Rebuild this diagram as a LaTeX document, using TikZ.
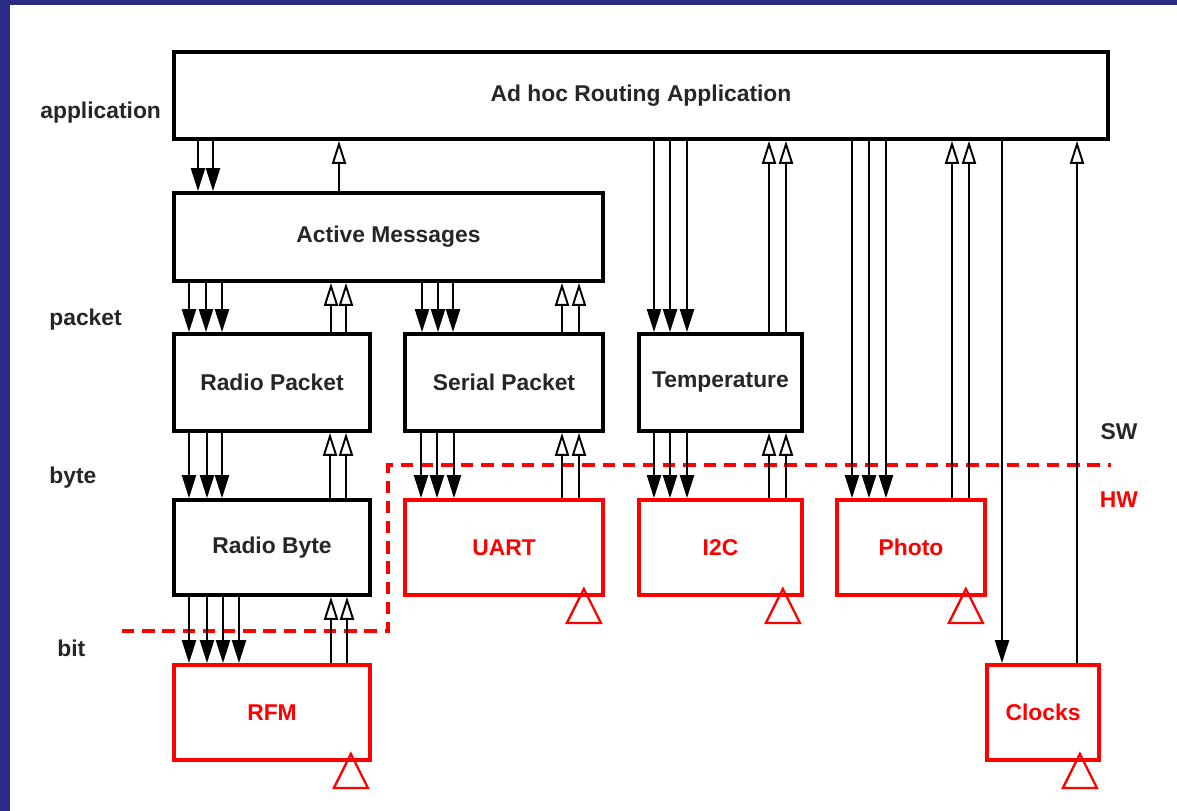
\documentclass[tikz,border=0pt]{standalone}
\usepackage{fontspec}
\setmainfont{Liberation Sans}
\usetikzlibrary{arrows.meta,calc}
\definecolor{Ink}{HTML}{262626}
\definecolor{HwRed}{HTML}{FF0000}
\definecolor{Frame}{HTML}{2B2A84}
\tikzset{
  >=Latex,
  blk/.style={rectangle,draw=black,line width=2.2pt,fill=white,inner sep=0pt,font=\fontsize{13}{15}\selectfont\bfseries,text=Ink},
  hwblk/.style={blk,draw=HwRed,text=HwRed},
  dnarr/.style={-{Triangle[length=13pt,width=8pt]},line width=1.1pt,draw=black},
  uparr/.style={-{Triangle[length=13pt,width=8pt,fill=white]},line width=1.1pt,draw=black},
  lvl/.style={font=\fontsize{13}{15}\selectfont\bfseries,text=Ink,anchor=west,inner sep=0pt},
  swhw/.style={dash pattern=on 7pt off 4.5pt,draw=HwRed,line width=2.2pt},
  tri/.style={draw=HwRed,line width=1.3pt,line join=miter}
}

\begin{document}
\begin{tikzpicture}[x=0.02cm,y=-0.02cm]
        \useasboundingbox (0,0) rectangle (1177,811);
        \fill[Frame] (0,0) rectangle (1177,5);
        \fill[Frame] (0,0) rectangle (10,811);
        \draw[swhw] (122,631) -- (388,631) -- (388,465) -- (1111,465);
        \node[blk,minimum width=18.68cm,minimum height=1.74cm] (app) at (641,95.5) {Ad hoc Routing Application};
        \node[blk,minimum width=8.58cm,minimum height=1.76cm] (am) at (388.5,237) {Active Messages};
        \node[blk,minimum width=3.92cm,minimum height=1.94cm] (rpkt) at (272,382.5) {Radio Packet};
        \node[blk,minimum width=3.96cm,minimum height=1.94cm] (spkt) at (504,382.5) {Serial Packet};
        \node[blk,minimum width=3.26cm,minimum height=1.94cm] (temp) at (720.5,382.5) {Temperature};
        \node[blk,minimum width=3.92cm,minimum height=1.9cm] (rbyte) at (272,547.5) {Radio Byte};
        \node[hwblk,minimum width=3.96cm,minimum height=1.9cm] (uart) at (504,547.5) {UART};
        \node[hwblk,minimum width=3.26cm,minimum height=1.9cm] (i2c) at (720.5,547.5) {I2C};
        \node[hwblk,minimum width=2.96cm,minimum height=1.9cm] (photo) at (911,547.5) {Photo};
        \node[hwblk,minimum width=3.92cm,minimum height=1.9cm] (rfm) at (272,712.5) {RFM};
        \node[hwblk,minimum width=2.24cm,minimum height=1.9cm] (clocks) at (1043,712.5) {Clocks};
        \node[lvl] (lapp) at (40,113) {application};
        \node[lvl] (lpkt) at (49,320) {packet};
        \node[lvl] (lbyte) at (49,478) {byte};
        \node[lvl] (lbit) at (57,648) {bit};
        \node[lvl,anchor=center] (lsw) at (1119,432) {SW};
        \node[lvl,anchor=center,text=HwRed] (lhw) at (1119,500) {HW};
        \foreach \x in {198,213} \draw[dnarr] (app.south -| \x,0) -- (am.north -| \x,0);
        \draw[uparr] (am.north -| 339,0) -- (app.south -| 339,0);
        \foreach \x in {189,206,222} \draw[dnarr] (am.south -| \x,0) -- (rpkt.north -| \x,0);
        \foreach \x in {331,346} \draw[uparr] (rpkt.north -| \x,0) -- (am.south -| \x,0);
        \foreach \x in {422,438,453} \draw[dnarr] (am.south -| \x,0) -- (spkt.north -| \x,0);
        \foreach \x in {562,579} \draw[uparr] (spkt.north -| \x,0) -- (am.south -| \x,0);
        \foreach \x in {654,670,687} \draw[dnarr] (app.south -| \x,0) -- (temp.north -| \x,0);
        \foreach \x in {769,786} \draw[uparr] (temp.north -| \x,0) -- (app.south -| \x,0);
        \foreach \x in {852,869,886} \draw[dnarr] (app.south -| \x,0) -- (photo.north -| \x,0);
        \foreach \x in {952,969} \draw[uparr] (photo.north -| \x,0) -- (app.south -| \x,0);
        \draw[dnarr] (app.south -| 1002,0) -- (clocks.north -| 1002,0);
        \draw[uparr] (clocks.north -| 1077,0) -- (app.south -| 1077,0);
        \foreach \x in {189,207,222} \draw[dnarr] (rpkt.south -| \x,0) -- (rbyte.north -| \x,0);
        \foreach \x in {330,346} \draw[uparr] (rbyte.north -| \x,0) -- (rpkt.south -| \x,0);
        \foreach \x in {421,437,454} \draw[dnarr] (spkt.south -| \x,0) -- (uart.north -| \x,0);
        \foreach \x in {562,579} \draw[uparr] (uart.north -| \x,0) -- (spkt.south -| \x,0);
        \foreach \x in {654,670,687} \draw[dnarr] (temp.south -| \x,0) -- (i2c.north -| \x,0);
        \foreach \x in {769,786} \draw[uparr] (i2c.north -| \x,0) -- (temp.south -| \x,0);
        \foreach \x in {189,207,223,239} \draw[dnarr] (rbyte.south -| \x,0) -- (rfm.north -| \x,0);
        \foreach \x in {331,347} \draw[uparr] (rfm.north -| \x,0) -- (rbyte.south -| \x,0);
        \foreach \b in {rfm,uart,i2c,photo,clocks}
          \draw[tri] ($(\b.south east)+(-21,-8)$) -- ++(-17,34) -- ++(34,0) -- cycle;
      \end{tikzpicture}
\end{document}
